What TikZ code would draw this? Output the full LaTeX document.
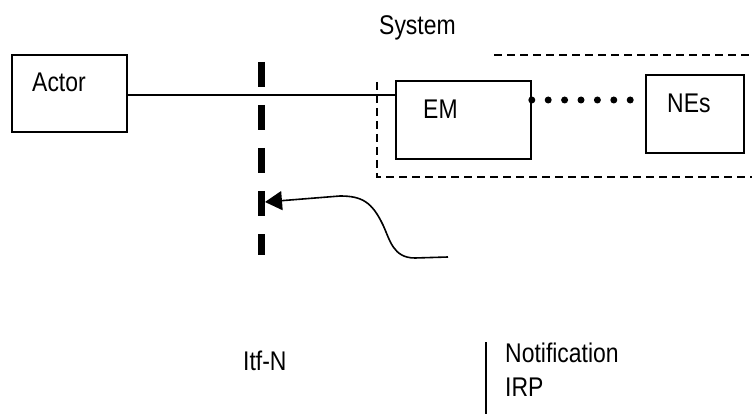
\documentclass[tikz,border=0pt]{standalone}
\usepackage{fontspec}
\setmainfont[FakeStretch=0.85]{Liberation Sans}
\usetikzlibrary{arrows.meta}

\begin{document}
\begin{tikzpicture}[x=1pt,y=-1pt,
  box/.style={draw, line width=1.6pt, inner sep=0pt},
  txt/.style={anchor=base west, inner sep=0pt, align=left, font=\fontsize{27}{34}\selectfont},
  sysline/.style={line width=1.4pt, dash pattern=on 8pt off 5pt},
  itfline/.style={line width=7pt, dash pattern=on 25pt off 18pt}]

\useasboundingbox (0,0) rectangle (752,414);

%the boxes
\node[box, minimum width=115pt, minimum height=77pt] (actor) at (69.5,93.5) {};
\node[box, minimum width=135pt, minimum height=78pt] (em) at (463.5,120) {};
\node[box, minimum width=98pt, minimum height=78pt] (nes) at (695,114) {};

%their texts
\node[txt] (systemlbl) at (379,35) {System};
\node[txt] (actorlbl) at (32,92) {Actor};
\node[txt] (emlbl) at (423,119) {EM};
\node[txt] (neslbl) at (667,113) {NEs};
\node[txt] (itflbl) at (243,370) {Itf-N};
\node[txt] (irplbl) at (505,396) {Notification\\IRP};

%links
\draw[line width=1.6pt] ([yshift=-1.5pt]actor.east) -- ([yshift=-1.5pt]actor.east -| em.west);
\draw[line width=7pt, line cap=round, dash pattern=on 0pt off 16.4pt] ([yshift=20pt]em.east) -- ([yshift=20pt]em.east -| nes.west);

%system border
\draw[sysline] (494,55) -- (752,55);
\draw[sysline] (377,82) -- (377,177) -- (752,177);

%the interface
\draw[itfline] (261.5,62) -- (261.5,255);
\draw[line width=1.6pt] (486,342) -- (486,414);

%notification arrow
\coordinate (tail) at (448,257);
\coordinate (tip) at (265,202);
\draw[line width=1.6pt, -{Triangle[length=17pt,width=19pt]}] (tail) -- (415,258) .. controls (393,258) and (390,240) .. (383,225) .. controls (372,202) and (362,196) .. (340,196) -- (tip);

\end{tikzpicture}
\end{document}
